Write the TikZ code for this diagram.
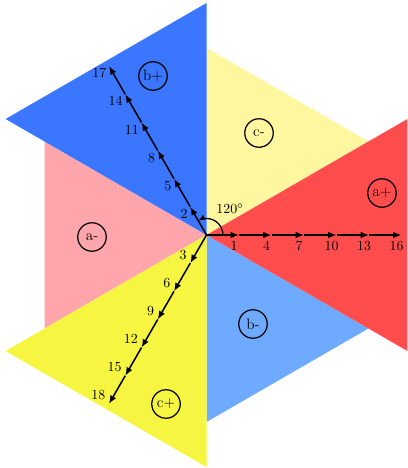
\documentclass[tikz,border=0pt]{standalone}
\usetikzlibrary{arrows.meta,calc}
\definecolor{aplus}{RGB}{255,77,77}
\definecolor{bplus}{RGB}{58,118,255}
\definecolor{cplus}{RGB}{246,246,66}
\definecolor{aminus}{RGB}{255,166,172}
\definecolor{bminus}{RGB}{110,170,255}
\definecolor{cminus}{RGB}{255,246,160}
\begin{document}
\begin{tikzpicture}[x=0.72pt,y=0.72pt,
  phase/.style={circle,draw=black,line width=0.9pt,minimum size=20.5pt,inner sep=0pt,font=\fontsize{11}{13}\selectfont},
  axisseg/.style={line width=1.1pt,-{Latex[length=6pt,width=4.8pt]}},
  num/.style={inner sep=0pt}]
\useasboundingbox (0,0) rectangle (407,468);
\coordinate (C) at (206.5,233);
% sectors
\fill[aminus] (C) -- ++(150:187) -- ++(270:187) -- cycle;
\fill[bminus] (C) -- ++(270:187) -- ++(30:187) -- cycle;
\fill[cminus] (C) -- ++(90:187) -- ++(-30:187) -- cycle;
\fill[aplus] (C) -- ++(30:232) -- ++(270:232) -- cycle;
\fill[bplus] (C) -- ++(90:232) -- ++(210:232) -- cycle;
\fill[cplus] (C) -- ++(210:232) -- ++(-30:232) -- cycle;
% axis points
\coordinate (h0) at (C);
\coordinate (u0) at (C);
\coordinate (d0) at (C);
\foreach \k in {1,...,6}{
  \coordinate (h\k) at ($(C)+(0:{32.5*\k})$);
  \coordinate (u\k) at ($(C)+(120:{32.5*\k})$);
  \coordinate (d\k) at ($(C)+(240:{32.5*\k})$);
}
\foreach \k [evaluate=\k as \j using int(\k-1)] in {1,...,6}{
  \draw[axisseg] (h\j) -- (h\k);
  \draw[axisseg] (u\j) -- (u\k);
  \draw[axisseg] (d\j) -- (d\k);
}
% labels
\foreach \k/\l in {1/1,2/4,3/7,4/10,5/13,6/16}
  \node[num,anchor=north] (lh\k) at ($(h\k)+(-5,-6)$) {\l};
\foreach \k/\l in {1/2,2/5,3/8,4/11,5/14,6/17}
  \node[num,anchor=east] (lu\k) at ($(u\k)+(-2.5,-7)$) {\l};
\foreach \k/\l in {1/3,2/6,3/9,4/12,5/15,6/18}
  \node[num,anchor=east] (ld\k) at ($(d\k)+(-3.5,8.5)$) {\l};
% angle
\coordinate (arcstart) at ($(C)+(16.5,0)$);
\draw[line width=0.9pt,-{Latex[length=5pt,width=4pt]}] (arcstart) arc[start angle=0,end angle=120,radius=16.5];
\node[num] (ang) at ($(C)+(23.5,26)$) {120$^\circ$};
% phase labels
\node[phase] (bp) at (153,392) {b+};
\node[phase] (cm) at (259,335) {c-};
\node[phase] (ap) at (382,275) {a+};
\node[phase] (am) at (92,231) {a-};
\node[phase] (bm) at (253,144) {b-};
\node[phase] (cp) at (166,64) {c+};
\end{tikzpicture}
\end{document}
